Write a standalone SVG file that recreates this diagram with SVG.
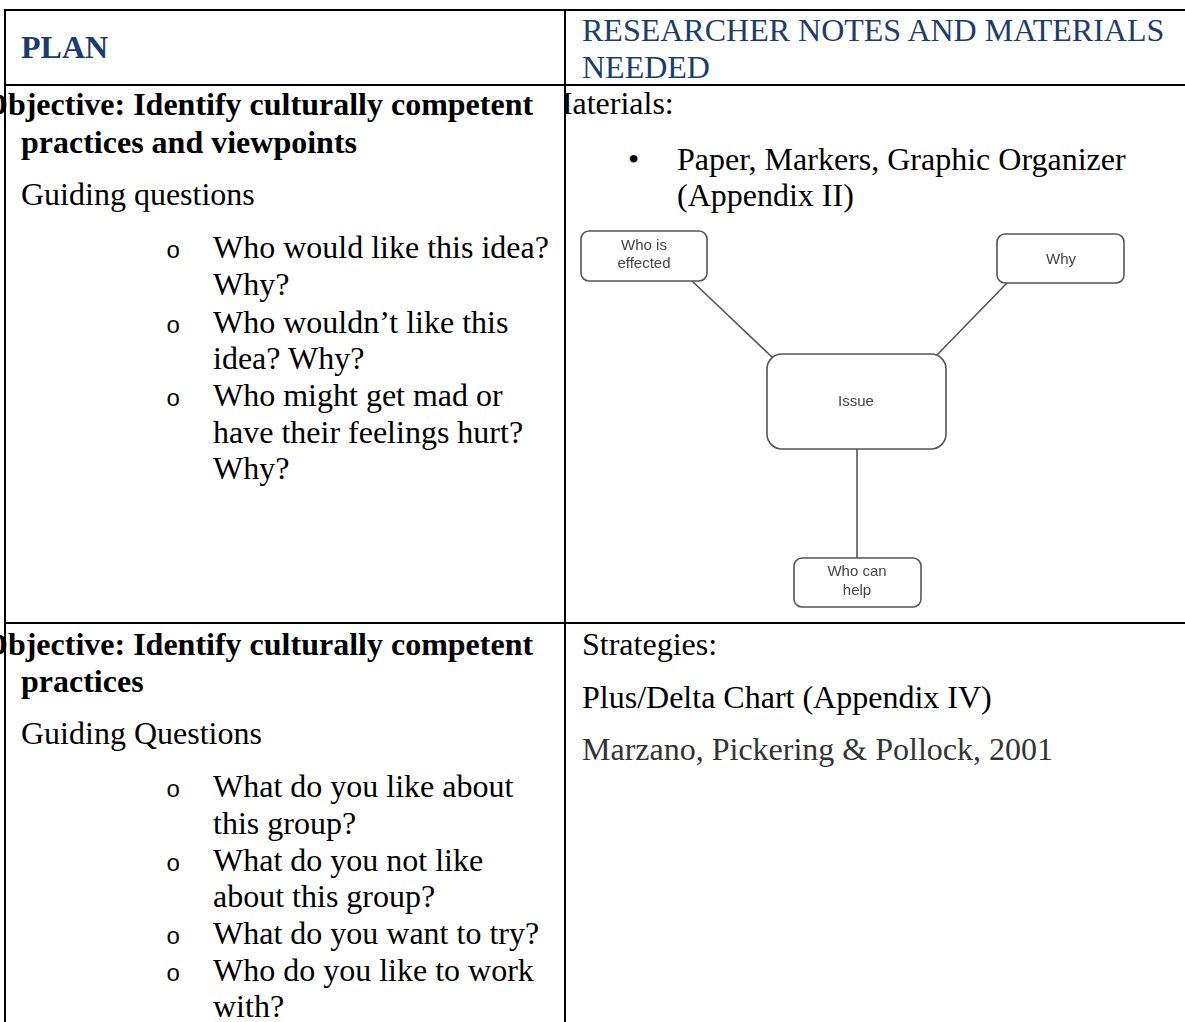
<svg xmlns="http://www.w3.org/2000/svg" width="1185" height="1022" viewBox="0 0 1185 1022">
  <style>
    .t { font-family: "Liberation Serif", "Times New Roman", serif; font-size: 32px; fill: #000; }
    .b { font-weight: bold; }
    .hd { fill: #1a3c6e; }
    .gray { fill: #333; }
    .mk { font-family: "Liberation Mono", "Courier New", monospace; font-size: 24px; fill: #000; }
    .grid { stroke: #000; stroke-width: 2; fill: none; }
    .box { fill: #fff; stroke: #555; stroke-width: 1.6; }
    .lbl { font-family: "Liberation Sans", Arial, sans-serif; font-size: 15px; fill: #444; text-anchor: middle; }
    .edge { stroke: #555; stroke-width: 1.6; fill: none; }
  </style>
  <defs>
    <clipPath id="rightCol"><rect x="566" y="0" width="619" height="1022"/></clipPath>
    <filter id="soft" x="-5%" y="-5%" width="110%" height="110%"><feGaussianBlur stdDeviation="0.45"/></filter>
  </defs>
  <rect width="1185" height="1022" fill="#fff"/>

  <!-- table rules -->
  <g id="table-grid" class="grid">
    <line x1="4" y1="10" x2="1185" y2="10"/>
    <line x1="5" y1="9" x2="5" y2="1022"/>
    <line x1="565" y1="9" x2="565" y2="1022"/>
    <line x1="4" y1="85" x2="1185" y2="85"/>
    <line x1="4" y1="623" x2="1185" y2="623"/>
  </g>

  <!-- header row -->
  <g id="header-plan">
    <text class="t b hd" x="21" y="58">PLAN</text>
  </g>
  <g id="header-notes">
    <text class="t hd" x="582" y="41">RESEARCHER NOTES AND MATERIALS</text>
    <text class="t hd" x="582" y="78">NEEDED</text>
  </g>

  <!-- row 1, left cell -->
  <g id="plan-1">
    <text class="t b" x="-17" y="115">Objective: Identify culturally competent</text>
    <text class="t b" x="21" y="153">practices and viewpoints</text>
    <text class="t" x="21" y="205">Guiding questions</text>
    <text class="mk" x="166" y="258">o</text>
    <text class="t" x="213" y="258">Who would like this idea?</text>
    <text class="t" x="213" y="295">Why?</text>
    <text class="mk" x="166" y="333">o</text>
    <text class="t" x="213" y="333">Who wouldn’t like this</text>
    <text class="t" x="213" y="369">idea? Why?</text>
    <text class="mk" x="166" y="406">o</text>
    <text class="t" x="213" y="406">Who might get mad or</text>
    <text class="t" x="213" y="443">have their feelings hurt?</text>
    <text class="t" x="213" y="479">Why?</text>
  </g>

  <!-- row 1, right cell -->
  <g id="notes-1" clip-path="url(#rightCol)">
    <text class="t" x="544" y="114">Materials:</text>
    <text class="t" x="628" y="170">•</text>
    <text class="t" x="677" y="170">Paper, Markers, Graphic Organizer</text>
    <text class="t" x="677" y="206">(Appendix II)</text>
  </g>

  <!-- graphic organizer: connectors -->
  <g id="organizer-edges" class="edge" filter="url(#soft)">
    <line x1="692" y1="281" x2="773" y2="358"/>
    <line x1="1007" y1="283" x2="936" y2="356"/>
    <line x1="857" y1="449" x2="857" y2="558"/>
  </g>

  <!-- graphic organizer: nodes -->
  <g id="node-affected" filter="url(#soft)">
    <rect class="box" x="581" y="231" width="126" height="50" rx="8"/>
    <text class="lbl" x="644" y="250">Who is</text>
    <text class="lbl" x="644" y="268">effected</text>
  </g>
  <g id="node-why" filter="url(#soft)">
    <rect class="box" x="997" y="234" width="127" height="49" rx="8"/>
    <text class="lbl" x="1061" y="264">Why</text>
  </g>
  <g id="node-issue" filter="url(#soft)">
    <rect class="box" x="767" y="354" width="179" height="95" rx="15"/>
    <text class="lbl" x="856" y="406">Issue</text>
  </g>
  <g id="node-help" filter="url(#soft)">
    <rect class="box" x="794" y="558" width="127" height="49" rx="8"/>
    <text class="lbl" x="857" y="576">Who can</text>
    <text class="lbl" x="857" y="595">help</text>
  </g>

  <!-- row 2, left cell -->
  <g id="plan-2">
    <text class="t b" x="-17" y="655">Objective: Identify culturally competent</text>
    <text class="t b" x="21" y="692">practices</text>
    <text class="t" x="21" y="744">Guiding Questions</text>
    <text class="mk" x="166" y="797">o</text>
    <text class="t" x="213" y="797">What do you like about</text>
    <text class="t" x="213" y="834">this group?</text>
    <text class="mk" x="166" y="871">o</text>
    <text class="t" x="213" y="871">What do you not like</text>
    <text class="t" x="213" y="907">about this group?</text>
    <text class="mk" x="166" y="944">o</text>
    <text class="t" x="213" y="944">What do you want to try?</text>
    <text class="mk" x="166" y="981">o</text>
    <text class="t" x="213" y="981">Who do you like to work</text>
    <text class="t" x="213" y="1017">with?</text>
  </g>

  <!-- row 2, right cell -->
  <g id="notes-2" clip-path="url(#rightCol)">
    <text class="t" x="582" y="655">Strategies:</text>
    <text class="t" x="582" y="708">Plus/Delta Chart (Appendix IV)</text>
    <text class="t gray" x="582" y="760">Marzano, Pickering &amp; Pollock, 2001</text>
  </g>
</svg>
